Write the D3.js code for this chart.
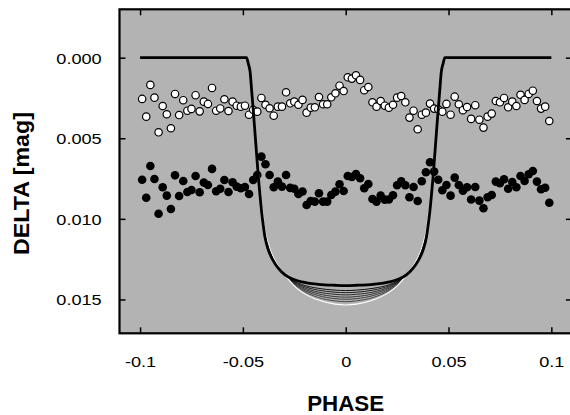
<!DOCTYPE html>
<html><head><meta charset="utf-8">
<script src="https://cdn.jsdelivr.net/npm/d3@7"></script>
<style>html,body{margin:0;padding:0;background:#fff;} svg{display:block;}</style>
</head><body><svg id="c" width="570" height="415"></svg>
<script>
// ---------- DATA ----------
const phase = [-0.099,-0.097,-0.095,-0.093,-0.091,-0.089,-0.087,-0.085,-0.083,-0.081,
 -0.079,-0.077,-0.075,-0.073,-0.071,-0.069,-0.067,-0.065,-0.063,-0.061,
 -0.059,-0.057,-0.055,-0.053,-0.051,-0.049,-0.047,-0.045,-0.043,-0.041,
 -0.039,-0.037,-0.035,-0.033,-0.031,-0.029,-0.027,-0.025,-0.023,-0.021,
 -0.019,-0.017,-0.015,-0.013,-0.011,-0.009,-0.007,-0.005,-0.003,-0.001,
 0.001,0.003,0.005,0.007,0.009,0.011,0.013,0.015,0.017,0.019,
 0.021,0.023,0.025,0.027,0.029,0.031,0.033,0.035,0.037,0.039,
 0.041,0.043,0.045,0.047,0.049,0.051,0.053,0.055,0.057,0.059,
 0.061,0.063,0.065,0.067,0.069,0.071,0.073,0.075,0.077,0.079,
 0.081,0.083,0.085,0.087,0.089,0.091,0.093,0.095,0.097,0.099];

const openDelta = [0.00256,0.00366,0.00169,0.00248,0.00463,0.00300,0.00351,0.00438,0.00225,0.00356,
 0.00264,0.00329,0.00318,0.00233,0.00333,0.00273,0.00287,0.00188,0.00329,0.00315,
 0.00258,0.00331,0.00273,0.00298,0.00304,0.00298,0.00354,0.00323,0.00335,0.00250,
 0.00292,0.00314,0.00360,0.00304,0.00304,0.00215,0.00283,0.00273,0.00292,0.00262,
 0.00341,0.00310,0.00308,0.00244,0.00289,0.00289,0.00246,0.00221,0.00174,0.00207,
 0.00122,0.00130,0.00109,0.00138,0.00202,0.00182,0.00277,0.00304,0.00269,0.00298,
 0.00310,0.00292,0.00248,0.00238,0.00277,0.00372,0.00329,0.00444,0.00354,0.00341,
 0.00285,0.00316,0.00320,0.00335,0.00287,0.00354,0.00242,0.00289,0.00326,0.00306,
 0.00380,0.00295,0.00385,0.00434,0.00366,0.00347,0.00269,0.00277,0.00250,0.00308,
 0.00273,0.00300,0.00230,0.00262,0.00225,0.00205,0.00269,0.00316,0.00304,0.00393];

const filledDelta = [0.00757,0.00869,0.00672,0.00753,0.00968,0.00804,0.00856,0.00939,0.00730,0.00858,
 0.00765,0.00833,0.00821,0.00734,0.00835,0.00775,0.00790,0.00690,0.00829,0.00813,
 0.00759,0.00833,0.00773,0.00800,0.00810,0.00802,0.00846,0.00759,0.00728,0.00614,
 0.00661,0.00728,0.00804,0.00769,0.00800,0.00728,0.00808,0.00813,0.00846,0.00830,
 0.00914,0.00889,0.00893,0.00841,0.00893,0.00893,0.00852,0.00831,0.00785,0.00827,
 0.00734,0.00740,0.00722,0.00748,0.00810,0.00784,0.00877,0.00893,0.00856,0.00881,
 0.00880,0.00854,0.00792,0.00767,0.00792,0.00866,0.00802,0.00889,0.00767,0.00711,
 0.00649,0.00707,0.00757,0.00823,0.00790,0.00856,0.00744,0.00790,0.00825,0.00804,
 0.00880,0.00802,0.00887,0.00934,0.00866,0.00852,0.00769,0.00779,0.00754,0.00813,
 0.00771,0.00804,0.00734,0.00765,0.00723,0.00703,0.00769,0.00816,0.00807,0.00900];

const fitPhase = [-0.1,-0.0482,-0.0474,-0.0465,-0.0457,-0.0449,-0.0441,-0.0433,-0.0425,-0.0417,-0.0409,-0.0401,-0.0393,-0.0376,-0.0352,-0.0328,-0.0295,-0.0255,-0.0214,-0.0133,-0.0052,
 0,0.0052,0.0133,0.0214,0.0255,0.0295,0.0328,0.0352,0.0376,0.0393,0.0401,0.0409,0.0417,0.0425,0.0433,0.0441,0.0449,0.0457,0.0465,0.0474,0.0482,0.1];
const fitBest = [0,0,0.00035,0.00087,0.0021,0.00335,0.00469,0.00604,0.00738,0.00852,0.00955,0.01038,0.0111,0.01193,0.01261,0.01306,0.01348,0.01375,0.01391,0.01406,0.01412,
 0.01414,0.01412,0.01406,0.01391,0.01375,0.01348,0.01306,0.01261,0.01193,0.0111,0.01038,0.00955,0.00852,0.00738,0.00604,0.00469,0.00335,0.0021,0.00087,0.00035,0,0];

const modelPhase = [-0.0482,-0.0474,-0.0465,-0.0457,-0.0449,-0.0441,-0.0433,-0.0425,-0.0417,-0.0409,-0.0401,-0.0393,-0.0376,-0.0352,-0.0328,-0.0295,-0.0255,-0.0214,-0.0133,-0.0052,
 0,0.0052,0.0133,0.0214,0.0255,0.0295,0.0328,0.0352,0.0376,0.0393,0.0401,0.0409,0.0417,0.0425,0.0433,0.0441,0.0449,0.0457,0.0465,0.0474,0.0482];
const model1 = [0,0.00035,0.00086,0.00208,0.00331,0.00464,0.00597,0.00729,0.0084,0.00941,0.01023,0.01097,0.01183,0.01255,0.01303,0.01348,0.01384,0.01407,0.01431,0.01442,
 0.01445,0.01442,0.01431,0.01407,0.01384,0.01348,0.01303,0.01255,0.01183,0.01097,0.01023,0.00941,0.0084,0.00729,0.00597,0.00464,0.00331,0.00208,0.00086,0.00035,0];
const model2 = [0,0.00034,0.00085,0.00207,0.0033,0.00461,0.00594,0.00725,0.00835,0.00936,0.01017,0.01092,0.01179,0.01252,0.01301,0.01348,0.01388,0.01414,0.01442,0.01455,
 0.01458,0.01455,0.01442,0.01414,0.01388,0.01348,0.01301,0.01252,0.01179,0.01092,0.01017,0.00936,0.00835,0.00725,0.00594,0.00461,0.0033,0.00207,0.00085,0.00034,0];
const model3 = [0,0.00034,0.00085,0.00206,0.00328,0.00459,0.00591,0.00721,0.0083,0.0093,0.0101,0.01086,0.01174,0.01249,0.013,0.01348,0.01392,0.01421,0.01454,0.01468,
 0.01472,0.01468,0.01454,0.01421,0.01392,0.01348,0.013,0.01249,0.01174,0.01086,0.0101,0.0093,0.0083,0.00721,0.00591,0.00459,0.00328,0.00206,0.00085,0.00034,0];
const model4 = [0,0.00034,0.00084,0.00205,0.00326,0.00457,0.00587,0.00716,0.00825,0.00923,0.01003,0.0108,0.0117,0.01247,0.01298,0.01348,0.01396,0.01428,0.01465,0.01482,
 0.01486,0.01482,0.01465,0.01428,0.01396,0.01348,0.01298,0.01247,0.0117,0.0108,0.01003,0.00923,0.00825,0.00716,0.00587,0.00457,0.00326,0.00205,0.00084,0.00034,0];
const model5 = [0,0.00034,0.00084,0.00204,0.00325,0.00455,0.00584,0.00713,0.0082,0.00918,0.00997,0.01074,0.01166,0.01244,0.01297,0.01348,0.01399,0.01435,0.01476,0.01495,
 0.01499,0.01495,0.01476,0.01435,0.01399,0.01348,0.01297,0.01244,0.01166,0.01074,0.00997,0.00918,0.0082,0.00713,0.00584,0.00455,0.00325,0.00204,0.00084,0.00034,0];
const model6 = [0,0.00034,0.00083,0.00203,0.00323,0.00452,0.00581,0.00708,0.00814,0.00911,0.0099,0.01068,0.01161,0.01241,0.01296,0.01348,0.01404,0.01442,0.01488,0.01509,
 0.01514,0.01509,0.01488,0.01442,0.01404,0.01348,0.01296,0.01241,0.01161,0.01068,0.0099,0.00911,0.00814,0.00708,0.00581,0.00452,0.00323,0.00203,0.00083,0.00034,0];
const model7 = [0,0.00033,0.00082,0.00202,0.00321,0.00449,0.00576,0.00702,0.00806,0.00902,0.0098,0.0106,0.01155,0.01237,0.01293,0.01348,0.01409,0.01453,0.01504,0.01529,
 0.01534,0.01529,0.01504,0.01453,0.01409,0.01348,0.01293,0.01237,0.01155,0.0106,0.0098,0.00902,0.00806,0.00702,0.00576,0.00449,0.00321,0.00202,0.00082,0.00033,0];

const xTicks = [-0.1,-0.05,0,0.05,0.1];
const xTickLabels = ["-0.1","-0.05","0","0.05","0.1"];
const yTicks = [0,0.005,0.01,0.015];
const yTickLabels = ["0.000","0.005","0.010","0.015"];
const xTitle = "PHASE";
const yTitle = "DELTA [mag]";

// ---------- DRAW ----------
const svg = d3.select("#c");
const FONT = "'Liberation Sans', Arial, Helvetica, sans-serif";
const L = 119.5, R = 571.9, T = 9.3, B = 333.3;
const x = d3.scaleLinear().domain([-0.11, 0.11]).range([L, R]);
const y = d3.scaleLinear().domain([-0.003, 0.0171]).range([T, B]);

svg.append("rect").attr("x", L).attr("y", T).attr("width", R - L).attr("height", B - T)
  .attr("fill", "#b3b3b3");

const pts = phase.map((p, i) => ({p, o: openDelta[i], f: filledDelta[i]}));
svg.append("g").selectAll("circle").data(pts).join("circle")
  .attr("cx", d => x(d.p)).attr("cy", d => y(d.f)).attr("r", 4.3).attr("fill", "#000");
svg.append("g").selectAll("circle").data(pts).join("circle")
  .attr("cx", d => x(d.p)).attr("cy", d => y(d.o)).attr("r", 3.7)
  .attr("fill", "#fff").attr("stroke", "#000").attr("stroke-width", 1.2);

const line = d3.line().x(d => x(d[0])).y(d => y(d[1])).curve(d3.curveMonotoneX);
const models = [model6, model5, model4, model3, model2, model1];
const mColors = ["#3a3a3a", "#303030", "#262626", "#1a1a1a", "#0d0d0d", "#000"];
models.forEach((m, k) => {
  svg.append("path").attr("d", line(modelPhase.map((p, i) => [p, m[i]])))
    .attr("fill", "none").attr("stroke", mColors[k]).attr("stroke-width", 0.9);
});
svg.append("path").attr("d", line(modelPhase.map((p, i) => [p, model7[i]])))
  .attr("fill", "none").attr("stroke", "#fff").attr("stroke-width", 1.1);
svg.append("path").attr("d", line(fitPhase.map((p, i) => [p, fitBest[i]])))
  .attr("fill", "none").attr("stroke", "#000").attr("stroke-width", 2.8);

// axes (inward ticks)
const ax = svg.append("g").attr("transform", `translate(0,${B})`)
  .call(d3.axisBottom(x).tickValues(xTicks).tickSize(-6).tickSizeOuter(0)
    .tickFormat((d, i) => xTickLabels[i]));
ax.selectAll("text").attr("y", 33.4).attr("dy", null);
const ay = svg.append("g").attr("transform", `translate(${L},0)`)
  .call(d3.axisLeft(y).tickValues(yTicks).tickSize(-6).tickSizeOuter(0).tickPadding(17.8)
    .tickFormat((d, i) => yTickLabels[i]));
ay.selectAll("text").attr("dy", "0.35em");
svg.append("g").attr("transform", `translate(0,${T})`)
  .call(d3.axisTop(x).tickValues(xTicks).tickSize(-6).tickSizeOuter(0).tickFormat(""));
svg.append("g").attr("transform", `translate(${R},0)`)
  .call(d3.axisRight(y).tickValues(yTicks).tickSize(-6).tickSizeOuter(0).tickFormat(""));
svg.selectAll(".domain").remove();
svg.selectAll(".tick line").attr("stroke", "#000").attr("stroke-width", 1.5);
svg.selectAll(".tick text").attr("font-family", FONT).attr("font-size", 15.5).attr("fill", "#000")
  .each(function () {
    const w = this.getComputedTextLength();
    this.setAttribute("textLength", (w * 1.17).toFixed(1));
    this.setAttribute("lengthAdjust", "spacingAndGlyphs");
  });

svg.append("rect").attr("x", L).attr("y", T).attr("width", R - L).attr("height", B - T)
  .attr("fill", "none").attr("stroke", "#000").attr("stroke-width", 2.2);

svg.append("text").attr("x", (x(0))).attr("y", 411).attr("text-anchor", "middle")
  .attr("font-family", FONT).attr("font-weight", "bold").attr("font-size", 21.4)
  .attr("textLength", 77).attr("lengthAdjust", "spacingAndGlyphs").text(xTitle);
svg.append("text").attr("transform", "translate(29,183.5) rotate(-90)").attr("text-anchor", "middle")
  .attr("font-family", FONT).attr("font-weight", "bold").attr("font-size", 22)
  .attr("textLength", 143).attr("lengthAdjust", "spacingAndGlyphs").text(yTitle);
</script>
</body></html>
